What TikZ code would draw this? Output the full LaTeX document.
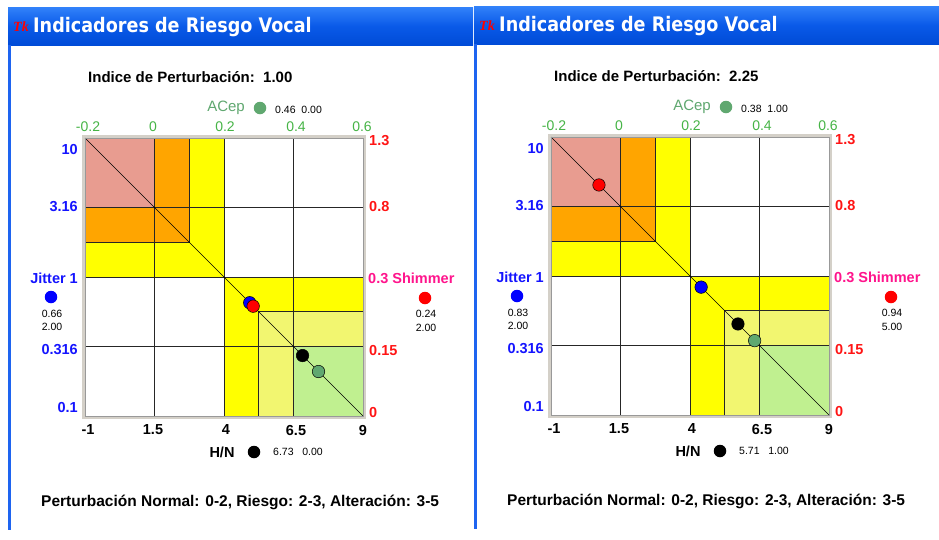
\documentclass[tikz,border=0pt]{standalone}
\usepackage{fontspec}
\usepackage{graphicx}
\setmainfont{Liberation Sans}
\newfontfamily\titlefont{DejaVu Sans}
\newfontfamily\iconfont{Liberation Serif}
\definecolor{barmid}{RGB}{10,90,232}
\definecolor{bartop}{RGB}{50,130,250}
\definecolor{barbot}{RGB}{0,75,215}
\definecolor{edgeblue}{RGB}{30,100,240}
\definecolor{framegray}{RGB}{212,208,200}
\definecolor{pinkzone}{RGB}{232,156,144}
\definecolor{orangezone}{RGB}{255,165,0}
\definecolor{yellowzone}{RGB}{255,255,0}
\definecolor{stipple}{RGB}{242,246,112}
\definecolor{greenzone}{RGB}{192,240,144}
\definecolor{axisgreen}{RGB}{70,180,70}
\definecolor{acepgreen}{RGB}{96,168,112}
\definecolor{axisblue}{RGB}{20,20,255}
\definecolor{axisred}{RGB}{255,20,20}
\definecolor{shimpink}{RGB}{255,20,140}
\tikzset{
  lbl/.style={inner sep=0pt, font=\fontsize{14}{16}\selectfont},
  blbl/.style={inner sep=0pt, font=\bfseries\fontsize{14.5}{16}\selectfont},
  headtxt/.style={inner sep=0pt, font=\bfseries\fontsize{15}{17}\selectfont},
  foottxt/.style={inner sep=0pt, font=\bfseries\fontsize{15.5}{17}\selectfont},
  smalltxt/.style={inner sep=0pt, font=\fontsize{10.5}{12.5}\selectfont},
  gridln/.style={draw=black!85, line width=0.8pt},
  cdot/.style={circle, draw=black, line width=0.5pt, minimum size=12.5pt, inner sep=0pt},
  ldot/.style={circle, minimum size=12.5pt, inner sep=0pt},
  chart/.style={shift={(85,138)}, x=69.5pt, y=-69.5pt},
}
\newcommand{\panelbase}[8]{%
  % #1 prefix, #2 index, #3 acep, #4 jitter a, #5 jitter b, #6 shimmer a, #7 shimmer b, #8 hn
  \shade[top color=bartop, bottom color=barbot, middle color=barmid] (8,7) rectangle (473,45);
  \fill[edgeblue] (8,45) rectangle (10.5,530);
  \node[anchor=west, inner sep=0pt, text=red, font=\iconfont\itshape\bfseries\fontsize{14}{14}\selectfont] (#1-icon) at (13,27) {Tk};
  \node[anchor=west, inner sep=0pt, text=white, font=\titlefont\bfseries\fontsize{20}{22}\selectfont] (#1-title) at (33,27) {\scalebox{0.88}[1]{Indicadores de Riesgo Vocal}};
  \node[headtxt, anchor=west] (#1-index) at (88,77) {Indice de Perturbación:\ \ #2};
  \node[inner sep=0pt, font=\fontsize{15}{17}\selectfont, anchor=east, text=acepgreen] (#1-acep) at (245,108) {ACep};
  \node[ldot, fill=acepgreen] (#1-acepdot) at (260,108) {};
  \node[smalltxt, anchor=west] (#1-acepval) at (275,110) {#3};
  \node[lbl, text=axisgreen] (#1-t1) at (88,127) {-0.2};
  \node[lbl, text=axisgreen] (#1-t2) at (153,127) {0};
  \node[lbl, text=axisgreen] (#1-t3) at (225,127) {0.2};
  \node[lbl, text=axisgreen] (#1-t4) at (296,127) {0.4};
  \node[lbl, text=axisgreen] (#1-t5) at (362,127) {0.6};
  \node[blbl, anchor=east, text=axisblue] (#1-l1) at (78,150) {10};
  \node[blbl, anchor=east, text=axisblue] (#1-l2) at (78,207) {3.16};
  \node[blbl, anchor=east, text=axisblue] (#1-l3) at (78,278) {Jitter 1};
  \node[blbl, anchor=east, text=axisblue] (#1-l4) at (78,350) {0.316};
  \node[blbl, anchor=east, text=axisblue] (#1-l5) at (78,407) {0.1};
  \node[ldot, fill=blue] (#1-jdot) at (51,297) {};
  \node[smalltxt] (#1-ja) at (52,314) {#4};
  \node[smalltxt] (#1-jb) at (52,327) {#5};
  \node[blbl, anchor=west, text=axisred] (#1-r1) at (369,141) {1.3};
  \node[blbl, anchor=west, text=axisred] (#1-r2) at (369,207) {0.8};
  \node[blbl, anchor=west, text=shimpink] (#1-r3) at (368,278) {0.3 Shimmer};
  \node[blbl, anchor=west, text=axisred] (#1-r4) at (369,350) {0.15};
  \node[blbl, anchor=west, text=axisred] (#1-r5) at (369,412) {0};
  \node[ldot, fill=red] (#1-sdot) at (425,298) {};
  \node[smalltxt] (#1-sa) at (426,314) {#6};
  \node[smalltxt] (#1-sb) at (426,328) {#7};
  \node[blbl] (#1-b1) at (88,430) {-1};
  \node[blbl] (#1-b2) at (153,430) {1.5};
  \node[blbl] (#1-b3) at (226,430) {4};
  \node[blbl] (#1-b4) at (296,430) {6.5};
  \node[blbl] (#1-b5) at (363,430) {9};
  \node[blbl] (#1-hn) at (222,452) {H/N};
  \node[ldot, fill=black] (#1-hndot) at (254,452) {};
  \node[smalltxt, anchor=west] (#1-hnval) at (273,452) {#8};
  \node[foottxt, anchor=west] (#1-foot) at (41,502) {Perturbación Normal: 0-2, Riesgo: 2-3, Alteración: 3-5};
  \begin{scope}[chart]
    \draw[framegray, line width=2.6pt] ([xshift=-1.3pt,yshift=1.3pt]0,0) rectangle ([xshift=1.3pt,yshift=-1.3pt]4,4);
    \fill[white] (0,0) rectangle (4,4);
    \fill[yellowzone] (0,0) rectangle (2,2);
    \fill[orangezone] (0,0) rectangle (1.5,1.5);
    \fill[pinkzone] (0,0) rectangle (1,1);
    \fill[yellowzone] (2,2) rectangle (4,4);
    \fill[stipple] (2.5,2.5) rectangle (4,4);
    \fill[greenzone] (3,3) rectangle (4,4);
    \foreach \k in {1,2,3} {
      \draw[gridln] (\k,0) -- (\k,4);
      \draw[gridln] (0,\k) -- (4,\k);
    }
    \draw[gridln] (1.5,0) -- (1.5,1.5) -- (0,1.5);
    \draw[gridln] (2.5,4) -- (2.5,2.5) -- (4,2.5);
    \draw[black, line width=0.5pt] (0,0) -- (4,4);
    \draw[gray!80, line width=0.6pt] (0,0) rectangle (4,4);
  \end{scope}
}
\begin{document}
\begin{tikzpicture}[x=1pt, y=-1pt]
  \useasboundingbox (0,0) rectangle (939,539);
  \fill[white] (0,0) rectangle (939,539);
  \begin{scope}
    \panelbase{L}{1.00}{0.46\ \ 0.00}{0.66}{2.00}{0.24}{2.00}{6.73\ \ \ 0.00}
    \begin{scope}[chart]
      \node[cdot, fill=blue] (L-pb) at (2.37,2.37) {};
      \node[cdot, fill=red] (L-pr) at (2.42,2.42) {};
      \node[cdot, fill=black] (L-pk) at (3.13,3.13) {};
      \node[cdot, fill=acepgreen] (L-pg) at (3.36,3.36) {};
    \end{scope}
  \end{scope}
  \begin{scope}[shift={(466,-1)}]
    \panelbase{R}{2.25}{0.38\ \ 1.00}{0.83}{2.00}{0.94}{5.00}{5.71\ \ \ 1.00}
    \begin{scope}[chart]
      \node[cdot, fill=red] (R-pr) at (0.69,0.69) {};
      \node[cdot, fill=blue] (R-pb) at (2.16,2.16) {};
      \node[cdot, fill=black] (R-pk) at (2.69,2.69) {};
      \node[cdot, fill=acepgreen] (R-pg) at (2.93,2.93) {};
    \end{scope}
  \end{scope}
\end{tikzpicture}
\end{document}
